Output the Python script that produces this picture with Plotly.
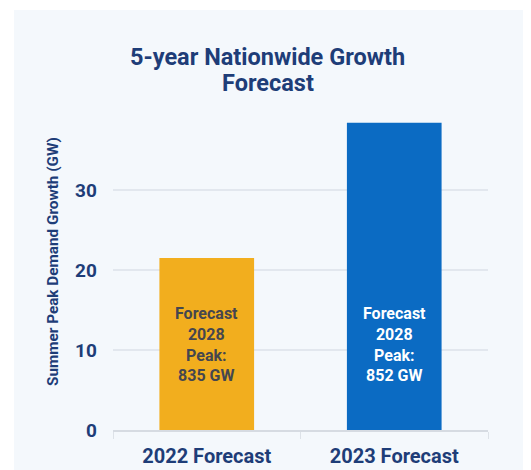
import plotly.graph_objects as go

categories = ["2022 Forecast", "2023 Forecast"]
growth_gw = [21.5, 38.4]
bar_labels = ["Forecast<br>2028<br>Peak:<br>835 GW", "Forecast<br>2028<br>Peak:<br>852 GW"]
bar_colors = ["#F2AE1E", "#0B6BC3"]
label_colors = ["#45464F", "#FFFFFF"]
y_ticks = [0, 10, 20, 30]
title_lines = ["5-year Nationwide Growth", "Forecast"]
y_title = "Summer Peak Demand Growth (GW)"

navy = "#1E3D78"

fig = go.Figure()
fig.add_trace(go.Bar(
    x=categories, y=growth_gw, marker=dict(color=bar_colors, line=dict(width=0)),
    width=0.505, hoverinfo="skip",
))

label_y = growth_gw[0] / 2 - 0.1
for cat, txt, col in zip(categories, bar_labels, label_colors):
    fig.add_annotation(x=cat, y=label_y, text=txt, showarrow=False,
                       font=dict(family="Roboto", size=16, color=col, weight="bold"),
                       align="center", yanchor="middle")

# title as two lines with tight spacing
for line, yp in zip(title_lines, [1.1656, 1.084]):
    fig.add_annotation(xref="paper", yref="paper", x=0.413, y=yp, text=line,
                       showarrow=False, xanchor="center", yanchor="middle",
                       font=dict(family="Roboto", size=23.5, color=navy, weight="bold"))

# y-axis title
fig.add_annotation(xref="paper", yref="paper", x=-0.16, y=0.525, text=y_title,
                   showarrow=False, textangle=-90, xanchor="center", yanchor="middle",
                   font=dict(family="Roboto", size=15.3, color=navy, weight="bold"))

# y tick labels placed with a wider gap from the plot
for t in y_ticks:
    fig.add_annotation(xref="paper", yref="y", x=-0.038, y=t, text=str(t),
                       showarrow=False, xanchor="right", yanchor="middle",
                       font=dict(family="Roboto", size=19, color=navy, weight="bold"))

# light panel background
fig.add_shape(type="rect", xref="paper", yref="paper", x0=-0.264, x1=1.2, y0=-0.2, y1=1.3125,
              fillcolor="#F4F8FC", line=dict(width=0), layer="below")

fig.update_layout(
    width=523, height=462,
    margin=dict(l=105, r=43, t=102, b=40, autoexpand=False),
    paper_bgcolor="#FFFFFF", plot_bgcolor="rgba(0,0,0,0)",
    showlegend=False,
    xaxis=dict(tickfont=dict(family="Roboto", size=20, color=navy, weight="bold"),
               showgrid=False, tickson="boundaries", ticks="outside", ticklen=7,
               tickcolor="#DDE2E8", showline=True, linecolor="#D6DBE2", linewidth=1.5,
               ticklabelstandoff=7, automargin=False),
    yaxis=dict(range=[0, 40], tickvals=y_ticks, showticklabels=False,
               gridcolor="#E2E7EE", gridwidth=1.5, zeroline=False, ticks="",
               automargin=False),
)

fig.write_html("out.html")
